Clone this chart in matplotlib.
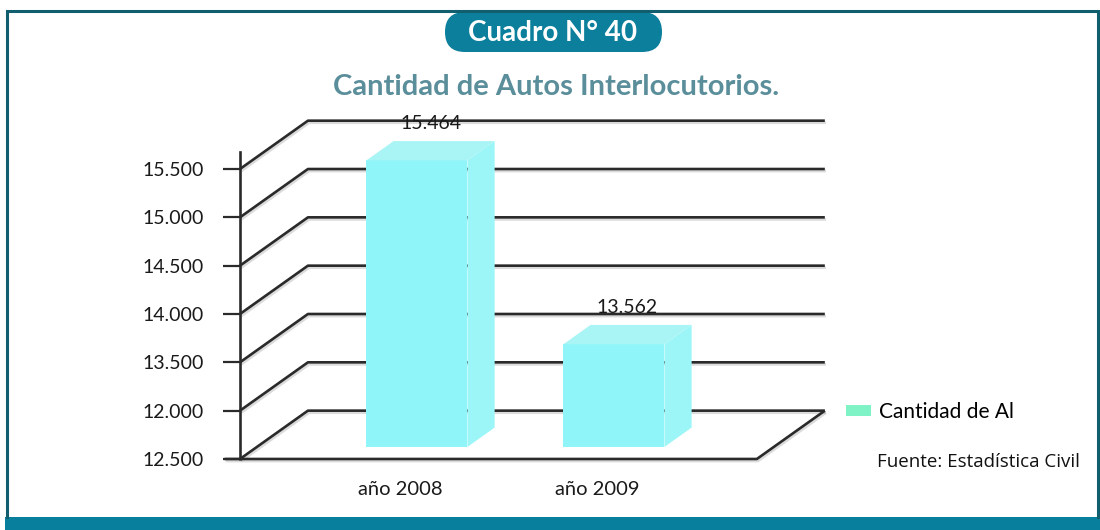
import matplotlib
matplotlib.use('Agg')
import matplotlib.pyplot as plt
import matplotlib.patheffects as pe
from matplotlib.patches import Polygon, Rectangle, FancyBboxPatch, Patch

plt.rcParams['font.family'] = ['Lato', 'DejaVu Sans']

# datos
years = ['año 2008', 'año 2009']
autos = [15464, 13562]
autos_labels = ['15.464', '13.562']
y_ticks = [12500, 13000, 13500, 14000, 14500, 15000, 15500]
y_tick_labels = ['12.500', '12.000', '13.500', '14.000', '14.500', '15.000', '15.500']
serie = 'Cantidad de Al'
titulo = 'Cuadro N° 40'
subtitulo = 'Cantidad de Autos Interlocutorios.'
fuente = 'Fuente: Estadística Civil'

teal = '#0b7f9b'
frame_col = '#115f6e'
line_col = '#2a2a2a'
bar_front = '#8ff5f8'
bar_side = '#9cf6f8'
bar_top = '#a9f5f6'

fig = plt.figure(figsize=(11, 5.3), dpi=100)

# marco, cuadro y titulos (coordenadas en pixeles)
ov = fig.add_axes([0, 0, 1, 1])
ov.set_xlim(0, 1100)
ov.set_ylim(530, 0)
ov.axis('off')
ov.plot([7, 7, 1098, 1098], [517, 11, 11, 517], color=frame_col, lw=2.2,
        solid_joinstyle='miter')
ov.add_patch(Rectangle((5, 517), 1095, 13, color='#08809d', lw=0))
ov.add_patch(FancyBboxPatch((445, 12), 217, 40, boxstyle='round,pad=0,rounding_size=20',
                            fc=teal, ec='none'))
ov.text(553, 33, titulo, ha='center', va='center', color='white', fontsize=20,
        fontweight='bold')
ov.text(556, 87, subtitulo, ha='center', va='center', color='#5a8e9a', fontsize=21,
        fontweight='bold')
ov.text(877, 462, fuente, ha='left', va='center', color='#111111', fontsize=13.5,
        family=['Open Sans', 'DejaVu Sans'])

# grafico pseudo 3D
ax = fig.add_axes([200 / 1100, 60 / 530, 640 / 1100, 370 / 530])
ax.patch.set_visible(False)
ax.set_xlim(-1.015, 2.234)
ax.set_ylim(12386, 16214)

AX = -0.812   # eje vertical
XR = 1.812    # borde derecho del piso
D = 0.345     # profundidad en x
DZ = 500      # profundidad en y
W = 0.513     # ancho de barra
f0, f1 = 0.25, 0.65

shadow = [pe.SimpleLineShadow(offset=(0.8, -1.5), shadow_color='#999999', alpha=0.35),
          pe.Normal()]
kw = dict(color=line_col, lw=1.9, solid_capstyle='butt', path_effects=shadow)

for t in y_ticks:
    ax.plot([AX, AX + D, XR + D], [t, t + DZ, t + DZ], zorder=1, **kw)
ax.plot([-0.89, XR, XR + D], [y_ticks[0], y_ticks[0], y_ticks[0] + DZ], zorder=4, **kw)

for i, v in enumerate(autos):
    xl = i - W / 2 + f0 * D
    xr = i + W / 2 + f0 * D
    base = y_ticks[0] + f0 * DZ
    top = v + f0 * DZ
    dd = (f1 - f0) * D
    dz = (f1 - f0) * DZ
    ax.add_patch(Rectangle((xl, base), xr - xl, top - base, fc=bar_front, ec='none', zorder=3))
    ax.add_patch(Polygon([(xr, base), (xr + dd, base + dz), (xr + dd, top + dz), (xr, top)],
                         fc=bar_side, ec='none', zorder=3))
    ax.add_patch(Polygon([(xl, top), (xr, top), (xr + dd, top + dz), (xl + dd, top + dz)],
                         fc=bar_top, ec='none', zorder=3))
    ax.text(i + (f0 + f1) / 2 * D, top + dz + 90, autos_labels[i], ha='center',
            va='bottom', fontsize=14, color='#1a1a1a', zorder=5)

for s in ['top', 'right', 'bottom']:
    ax.spines[s].set_visible(False)
ax.spines['left'].set_position(('data', AX))
ax.spines['left'].set_bounds(y_ticks[0], 15675)
ax.spines['left'].set_color(line_col)
ax.spines['left'].set_linewidth(1.9)

ax.set_yticks(y_ticks, y_tick_labels)
ax.tick_params(axis='y', direction='out', length=12, width=1.6, pad=14, labelsize=14,
               color=line_col, labelcolor='#1a1a1a')
ax.set_xticks([0, 1], years)
ax.tick_params(axis='x', length=0, pad=8, labelsize=14.5, labelcolor='#1a1a1a')

ax.legend(handles=[Patch(facecolor='#7ff2c6', edgecolor='none', label=serie)],
          loc='center left', bbox_to_anchor=(846 / 1100, 1 - 412 / 530),
          bbox_transform=fig.transFigure, frameon=False, fontsize=15,
          handlelength=1.2, handleheight=0.45, handletextpad=0.4,
          borderpad=0, borderaxespad=0)

fig.savefig('out.png', dpi=100)
